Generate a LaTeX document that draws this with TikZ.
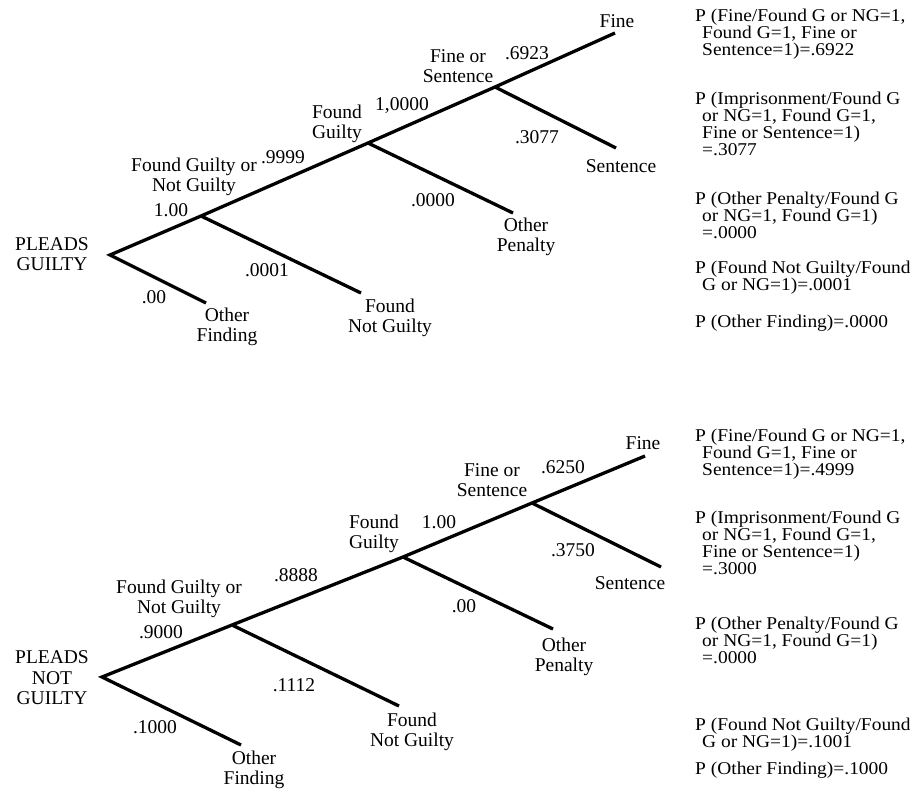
\documentclass[tikz,border=0pt]{standalone}
\usepackage{fontspec}
\setmainfont{Liberation Serif}
\newfontfamily\probfont[FakeStretch=1.08]{Liberation Serif}
\newcommand{\rientro}{\hspace*{7pt}}

\begin{document}
\begin{tikzpicture}[x=1pt, y=-1pt,
		ramo/.style={line width=3.3pt},
		etichetta/.style={inner sep=0pt, align=center, font=\fontsize{19.5}{20.5}\selectfont},
		prob/.style={inner sep=0pt, align=left, anchor=north west, font=\probfont\fontsize{18}{17}\selectfont}]
	\useasboundingbox (0,0) rectangle (910,789);
	% albero superiore
	\coordinate (gRad) at (110,255);
	\coordinate (gVer) at (201,216);
	\coordinate (gCol) at (368,143);
	\coordinate (gPen) at (495,87);
	\coordinate (gMul) at (615,33);
	\coordinate (gSen) at (616,148);
	\coordinate (gAlP) at (513,213);
	\coordinate (gNCo) at (361,293);
	\coordinate (gAlE) at (206,303);
	\draw[ramo] (gAlE) -- (gRad) -- (gVer) -- (gCol) -- (gPen) -- (gMul);
	\draw[ramo] (gVer) -- (gNCo);
	\draw[ramo] (gCol) -- (gAlP);
	\draw[ramo] (gPen) -- (gSen);
	% etichette albero superiore
	\node[etichetta] (tRad) at (52,254) {PLEADS\\GUILTY};
	\node[etichetta] (tMul) at (617,21) {Fine};
	\node[etichetta] (tPen) at (458,66) {Fine or\\Sentence};
	\node[etichetta] (pMul) at (527,53) {.6923};
	\node[etichetta] (pPen) at (402,106) {1,0000};
	\node[etichetta] (tCol) at (337,124) {Found\\Guilty};
	\node[etichetta] (pSen) at (537,137) {.3077};
	\node[etichetta] (tSen) at (621,166) {Sentence};
	\node[etichetta] (pCol) at (283,157) {.9999};
	\node[etichetta] (tVer) at (194,177) {Found Guilty or\\Not Guilty};
	\node[etichetta] (pVer) at (171,210) {1.00};
	\node[etichetta] (pAlP) at (433,200) {.0000};
	\node[etichetta] (tAlP) at (526,237) {Other\\Penalty};
	\node[etichetta] (pNCo) at (267,270) {.0001};
	\node[etichetta] (tNCo) at (390,318) {Found\\Not Guilty};
	\node[etichetta] (pAlE) at (154,297) {.00};
	\node[etichetta] (tAlE) at (227,327) {Other\\Finding};
	% probabilita albero superiore
	\node[prob] (qMul) at (695,9) {P (Fine/Found G or NG=1,\\\rientro Found G=1, Fine or\\\rientro Sentence=1)=.6922};
	\node[prob] (qSen) at (695,92) {P (Imprisonment/Found G\\\rientro or NG=1, Found G=1,\\\rientro Fine or Sentence=1)\\\rientro =.3077};
	\node[prob] (qAlP) at (695,192) {P (Other Penalty/Found G\\\rientro or NG=1, Found G=1)\\\rientro =.0000};
	\node[prob] (qNCo) at (695,261) {P (Found Not Guilty/Found\\\rientro G or NG=1)=.0001};
	\node[prob] (qAlE) at (695,315) {P (Other Finding)=.0000};

	% albero inferiore
	\coordinate (nRad) at (102,677);
	\coordinate (nVer) at (232,625);
	\coordinate (nCol) at (403,557);
	\coordinate (nPen) at (532,503);
	\coordinate (nMul) at (645,456);
	\coordinate (nSen) at (661,567);
	\coordinate (nAlP) at (553,629);
	\coordinate (nNCo) at (399,706);
	\coordinate (nAlE) at (241,745);
	\draw[ramo] (nAlE) -- (nRad) -- (nVer) -- (nCol) -- (nPen) -- (nMul);
	\draw[ramo] (nVer) -- (nNCo);
	\draw[ramo] (nCol) -- (nAlP);
	\draw[ramo] (nPen) -- (nSen);
	% etichette albero inferiore
	\node[etichetta] (sRad) at (52,678) {PLEADS\\NOT\\GUILTY};
	\node[etichetta] (sMul) at (643,443) {Fine};
	\node[etichetta] (rMul) at (563,467) {.6250};
	\node[etichetta] (sPen) at (492,480) {Fine or\\Sentence};
	\node[etichetta] (rPen) at (439,522) {1.00};
	\node[etichetta] (sCol) at (374,534) {Found\\Guilty};
	\node[etichetta] (rSen) at (573,550) {.3750};
	\node[etichetta] (sSen) at (630,583) {Sentence};
	\node[etichetta] (rCol) at (296,575) {.8888};
	\node[etichetta] (sVer) at (179,599) {Found Guilty or\\Not Guilty};
	\node[etichetta] (rVer) at (161,632) {.9000};
	\node[etichetta] (rAlP) at (464,606) {.00};
	\node[etichetta] (sAlP) at (564,657) {Other\\Penalty};
	\node[etichetta] (rNCo) at (294,685) {.1112};
	\node[etichetta] (sNCo) at (412,732) {Found\\Not Guilty};
	\node[etichetta] (rAlE) at (155,727) {.1000};
	\node[etichetta] (sAlE) at (254,770) {Other\\Finding};
	% probabilita albero inferiore
	\node[prob] (uMul) at (695,429) {P (Fine/Found G or NG=1,\\\rientro Found G=1, Fine or\\\rientro Sentence=1)=.4999};
	\node[prob] (uSen) at (695,511) {P (Imprisonment/Found G\\\rientro or NG=1, Found G=1,\\\rientro Fine or Sentence=1)\\\rientro =.3000};
	\node[prob] (uAlP) at (695,617) {P (Other Penalty/Found G\\\rientro or NG=1, Found G=1)\\\rientro =.0000};
	\node[prob] (uNCo) at (695,718) {P (Found Not Guilty/Found\\\rientro G or NG=1)=.1001};
	\node[prob] (uAlE) at (695,762) {P (Other Finding)=.1000};
\end{tikzpicture}
\end{document}
